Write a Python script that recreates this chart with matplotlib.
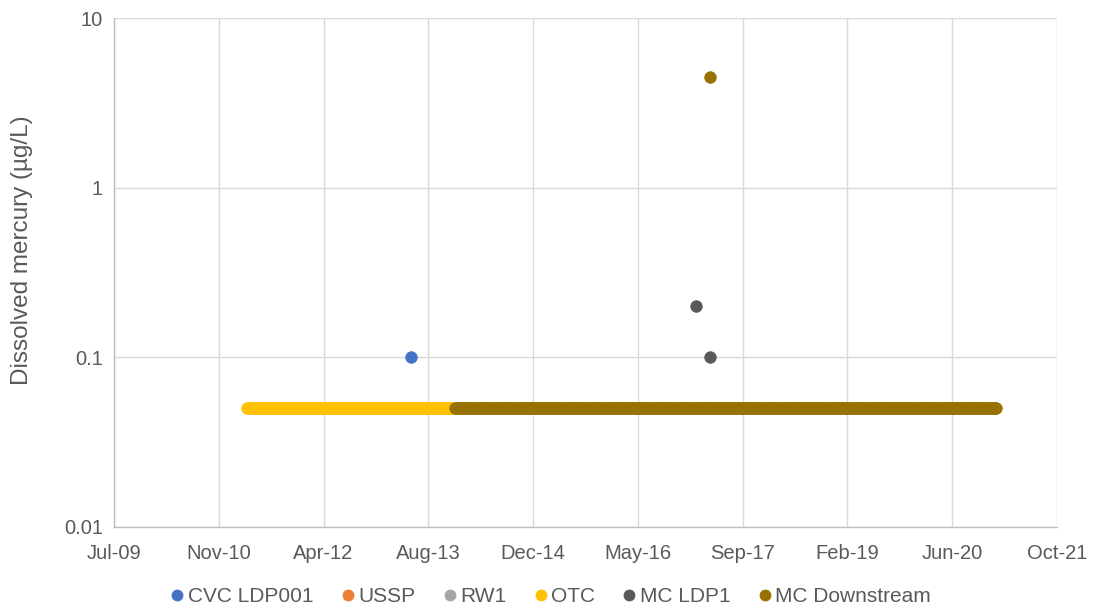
import matplotlib
matplotlib.use("Agg")
import matplotlib.pyplot as plt
import matplotlib.dates as mdates
from matplotlib.ticker import FixedLocator, NullLocator
import pandas as pd

plt.rcParams['font.family'] = ['Liberation Sans', 'DejaVu Sans']

# --- data -----------------------------------------------------------------
series_names = ["CVC LDP001", "USSP", "RW1", "OTC", "MC LDP1", "MC Downstream"]
series_colors = ["#4472C4", "#ED7D31", "#A5A5A5", "#FFC000", "#595959", "#977200"]

cvc_dates = ["2013-05-24"]
cvc_values = [0.1]

ussp_dates = []
ussp_values = []

rw1_dates = []
rw1_values = []

# OTC weekly monitoring, all results at the 0.05 µg/L reporting limit
otc_period = ("2011-04-02", "2013-12-20")
otc_level = 0.05

mc_ldp1_dates = ["2017-02-09", "2017-04-17"]
mc_ldp1_values = [0.2, 0.1]

# MC Downstream weekly monitoring at 0.05 µg/L plus one elevated result
mcd_period = ("2013-12-20", "2021-01-16")
mcd_level = 0.05
mcd_peak_dates = ["2017-04-17"]
mcd_peak_values = [4.5]

# Axis ticks every 500 days from 6 Jul 2009
x_start = "2009-07-06"
x_tick_step_days = 500
x_tick_count = 10
y_ticks = [0.01, 0.1, 1, 10]
y_tick_labels = ["0.01", "0.1", "1", "10"]

# --- build series ---------------------------------------------------------
otc_dates = pd.date_range(otc_period[0], otc_period[1], freq="7D")
otc_values = [otc_level] * len(otc_dates)
mcd_dates = pd.date_range(mcd_period[0], mcd_period[1], freq="7D")
mcd_values = [mcd_level] * len(mcd_dates)

series = [
    (pd.to_datetime(cvc_dates), cvc_values),
    (pd.to_datetime(ussp_dates), ussp_values),
    (pd.to_datetime(rw1_dates), rw1_values),
    (otc_dates, otc_values),
    (pd.to_datetime(mc_ldp1_dates), mc_ldp1_values),
    (mcd_dates.append(pd.to_datetime(mcd_peak_dates)), mcd_values + mcd_peak_values),
]

# --- figure ---------------------------------------------------------------
W, H = 1093, 615
fig = plt.figure(figsize=(W / 100, H / 100), dpi=100)
ax = fig.add_axes([114 / W, 1 - 527 / H, (1057 - 114) / W, (527 - 18) / H])

for name, color, (d, v) in zip(series_names, series_colors, series):
    ax.plot(d, v, linestyle="none", marker="o", markersize=8.3,
            markerfacecolor=color, markeredgecolor=color, markeredgewidth=0.6,
            label=name, zorder=3)

ax.set_yscale("log")
ax.set_ylim(0.01, 10)
ax.yaxis.set_major_locator(FixedLocator(y_ticks))
ax.yaxis.set_minor_locator(NullLocator())
ax.set_yticks(y_ticks)
ax.set_yticklabels(y_tick_labels)

start = pd.Timestamp(x_start)
x_ticks = [start + pd.Timedelta(days=x_tick_step_days * i) for i in range(x_tick_count)]
ax.set_xlim(mdates.date2num(x_ticks[0]), mdates.date2num(x_ticks[-1]))
ax.set_xticks([mdates.date2num(t) for t in x_ticks])
ax.set_xticklabels([t.strftime("%b-%y") for t in x_ticks])

ax.grid(True, which="major", color="#D9D9D9", linewidth=1.0, zorder=0)
ax.set_axisbelow(True)
for side in ["top", "right"]:
    ax.spines[side].set_visible(False)
for side in ["left", "bottom"]:
    ax.spines[side].set_color("#BFBFBF")
    ax.spines[side].set_linewidth(1.0)

ax.tick_params(axis="both", length=0, labelsize=14.5, colors="#595959")
ax.tick_params(axis="x", pad=12.5)
ax.tick_params(axis="y", pad=8)

ax.set_ylabel("Dissolved mercury (µg/L)", fontsize=17.5, color="#595959")
ax.yaxis.set_label_coords(-(114 - 22) / (1057 - 114), (527 - 250) / (527 - 18))
ax.yaxis.label.set_verticalalignment("center")

handles, labels = ax.get_legend_handles_labels()
fig.legend(handles, labels, loc="center", bbox_to_anchor=(551 / W, 1 - 597 / H), ncol=6,
           frameon=False, fontsize=15, handlelength=0.6, handletextpad=0.2,
           columnspacing=1.35, borderpad=0, markerscale=0.95, labelcolor="#595959")

fig.savefig("out.png", dpi=100)
